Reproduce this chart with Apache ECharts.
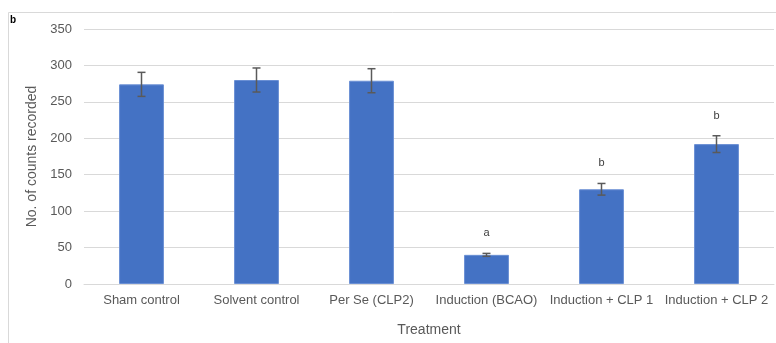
<!DOCTYPE html>
<html>
<head>
<meta charset="utf-8">
<script src="https://cdn.jsdelivr.net/npm/echarts@6/dist/echarts.min.js"></script>
<style>
  html, body { margin: 0; padding: 0; background: #fff; }
  #chart { width: 776px; height: 343px; }
</style>
</head>
<body>
<div id="chart"></div>
<script>
// Treatment groups and mean counts with their error (±) values
const categories = ['Sham control', 'Solvent control', 'Per Se (CLP2)', 'Induction (BCAO)', 'Induction + CLP 1', 'Induction + CLP 2'];
const counts = [274, 280, 279, 40, 130, 192];
const errors = [16.5, 16.5, 16.5, 2, 8, 11.5];
// Significance letters shown above each bar ('' = none)
const sigLetters = ['', '', '', 'a', 'b', 'b'];
const yTicks = { min: 0, max: 350, interval: 50 };

const axisTextColor = '#595959';
const gridColor = '#d9d9d9';
const fontFamily = 'Liberation Sans, Arial, sans-serif';

const errorData = categories.map((c, i) => [i, counts[i], errors[i]]);

const chart = echarts.init(document.getElementById('chart'));
chart.setOption({
  animation: false,
  backgroundColor: '#fff',
  textStyle: { fontFamily },
  graphic: [
    {
      type: 'rect',
      shape: { x: 8.5, y: 12.5, width: 900, height: 500 },
      style: { fill: null, stroke: gridColor, lineWidth: 1 },
      silent: true,
      z: -10
    },
    {
      type: 'text',
      left: 10,
      top: 15,
      style: { text: 'b', font: 'bold 10px ' + fontFamily, fill: '#000' }
    }
  ],
  grid: { left: 84, right: 2, top: 29, bottom: 59, containLabel: false },
  xAxis: {
    type: 'category',
    data: categories,
    name: 'Treatment',
    nameLocation: 'middle',
    nameGap: 39,
    nameTextStyle: { color: axisTextColor, fontSize: 14 },
    axisLine: { show: true, lineStyle: { color: gridColor, width: 1 } },
    axisTick: { show: false },
    axisLabel: { color: axisTextColor, fontSize: 13, margin: 10, interval: 0 }
  },
  yAxis: {
    type: 'value',
    min: yTicks.min,
    max: yTicks.max,
    interval: yTicks.interval,
    name: 'No. of counts recorded',
    nameLocation: 'middle',
    nameGap: 44,
    nameTextStyle: { color: axisTextColor, fontSize: 14 },
    axisLine: { show: false },
    axisTick: { show: false },
    axisLabel: { color: axisTextColor, fontSize: 13, margin: 12 },
    splitLine: { lineStyle: { color: gridColor, width: 1 } }
  },
  series: [
    {
      type: 'bar',
      data: counts,
      barWidth: '39%',
      itemStyle: { color: '#4472C4', borderColor: '#6a8fd4', borderWidth: 1 },
      z: 2
    },
    {
      type: 'custom',
      data: errorData,
      z: 5,
      renderItem: function (params, api) {
        const x = api.value(0);
        const v = api.value(1);
        const e = api.value(2);
        const letter = sigLetters[params.dataIndex];
        const top = api.coord([x, v + e]);
        const bot = api.coord([x, v - e]);
        const cap = 4;
        const lineStyle = { stroke: '#5a5a5a', lineWidth: 1.5 };
        const children = [
          { type: 'line', shape: { x1: top[0], y1: top[1], x2: bot[0], y2: bot[1] }, style: lineStyle },
          { type: 'line', shape: { x1: top[0] - cap, y1: top[1], x2: top[0] + cap, y2: top[1] }, style: lineStyle },
          { type: 'line', shape: { x1: bot[0] - cap, y1: bot[1], x2: bot[0] + cap, y2: bot[1] }, style: lineStyle }
        ];
        if (letter) {
          children.push({
            type: 'text',
            x: top[0],
            y: top[1] - 20,
            style: {
              text: letter,
              font: '11px ' + fontFamily,
              fill: '#404040',
              align: 'center',
              verticalAlign: 'middle',
              backgroundColor: '#fff',
              padding: [10, 10, 0, 10]
            }
          });
        }
        return { type: 'group', children };
      }
    }
  ]
});
</script>
</body>
</html>
